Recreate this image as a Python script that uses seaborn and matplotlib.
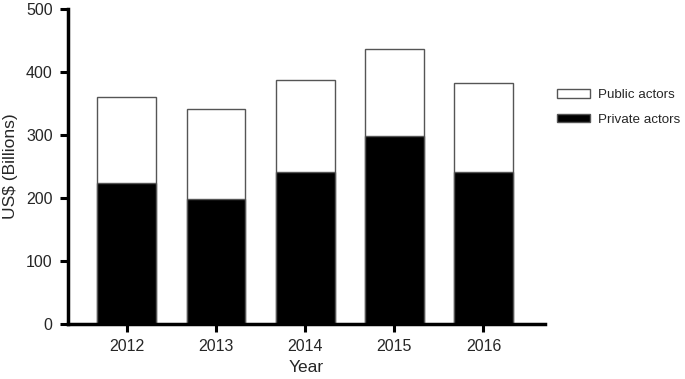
import matplotlib
matplotlib.use('Agg')
import matplotlib.pyplot as plt
import seaborn as sns
import pandas as pd

# ---------------- 数据 ----------------
years = ['2012', '2013', '2014', '2015', '2016']
private_actors = [224, 199, 242, 299, 242]
public_actors = [137, 143, 146, 138, 141]
totals = [p + q for p, q in zip(private_actors, public_actors)]

df = pd.DataFrame({'Year': years, 'Private': private_actors, 'Total': totals})

sns.set_theme(style='ticks')
plt.rcParams['font.family'] = ['Liberation Sans', 'DejaVu Sans']

fig = plt.figure(figsize=(6.85, 3.79), dpi=100)
ax = fig.add_axes([0.0993, 0.1451, 0.6963, 0.8312])

# 上层（公共）先画总高度，白色
sns.barplot(data=df, x='Year', y='Total', order=years, color='white',
            edgecolor='#555555', linewidth=1.0, width=0.66,
            label='Public actors', ax=ax)
# 下层（私人）黑色
sns.barplot(data=df, x='Year', y='Private', order=years, color='black',
            edgecolor='#555555', linewidth=1.0, width=0.66,
            label='Private actors', ax=ax)

ax.set_ylim(0, 500)
ax.set_xlim(-0.66, 4.69)
ax.set_yticks([0, 100, 200, 300, 400, 500])
ax.set_xlabel('Year', fontsize=12.5, labelpad=4)
ax.set_ylabel('US$ (Billions)', fontsize=12.5, labelpad=6)
ax.tick_params(axis='both', labelsize=11.5, width=2.2, length=6, color='black', pad=5)
for s in ['left', 'bottom']:
    ax.spines[s].set_linewidth(2.5)
    ax.spines[s].set_color('black')
sns.despine(ax=ax)

leg = ax.legend(loc='upper left', bbox_to_anchor=(1.006, 0.775), frameon=False,
                fontsize=9.6, handlelength=2.45, handleheight=0.6,
                labelspacing=0.95, handletextpad=0.6, borderaxespad=0.3)

fig.savefig('out.png', dpi=100)
